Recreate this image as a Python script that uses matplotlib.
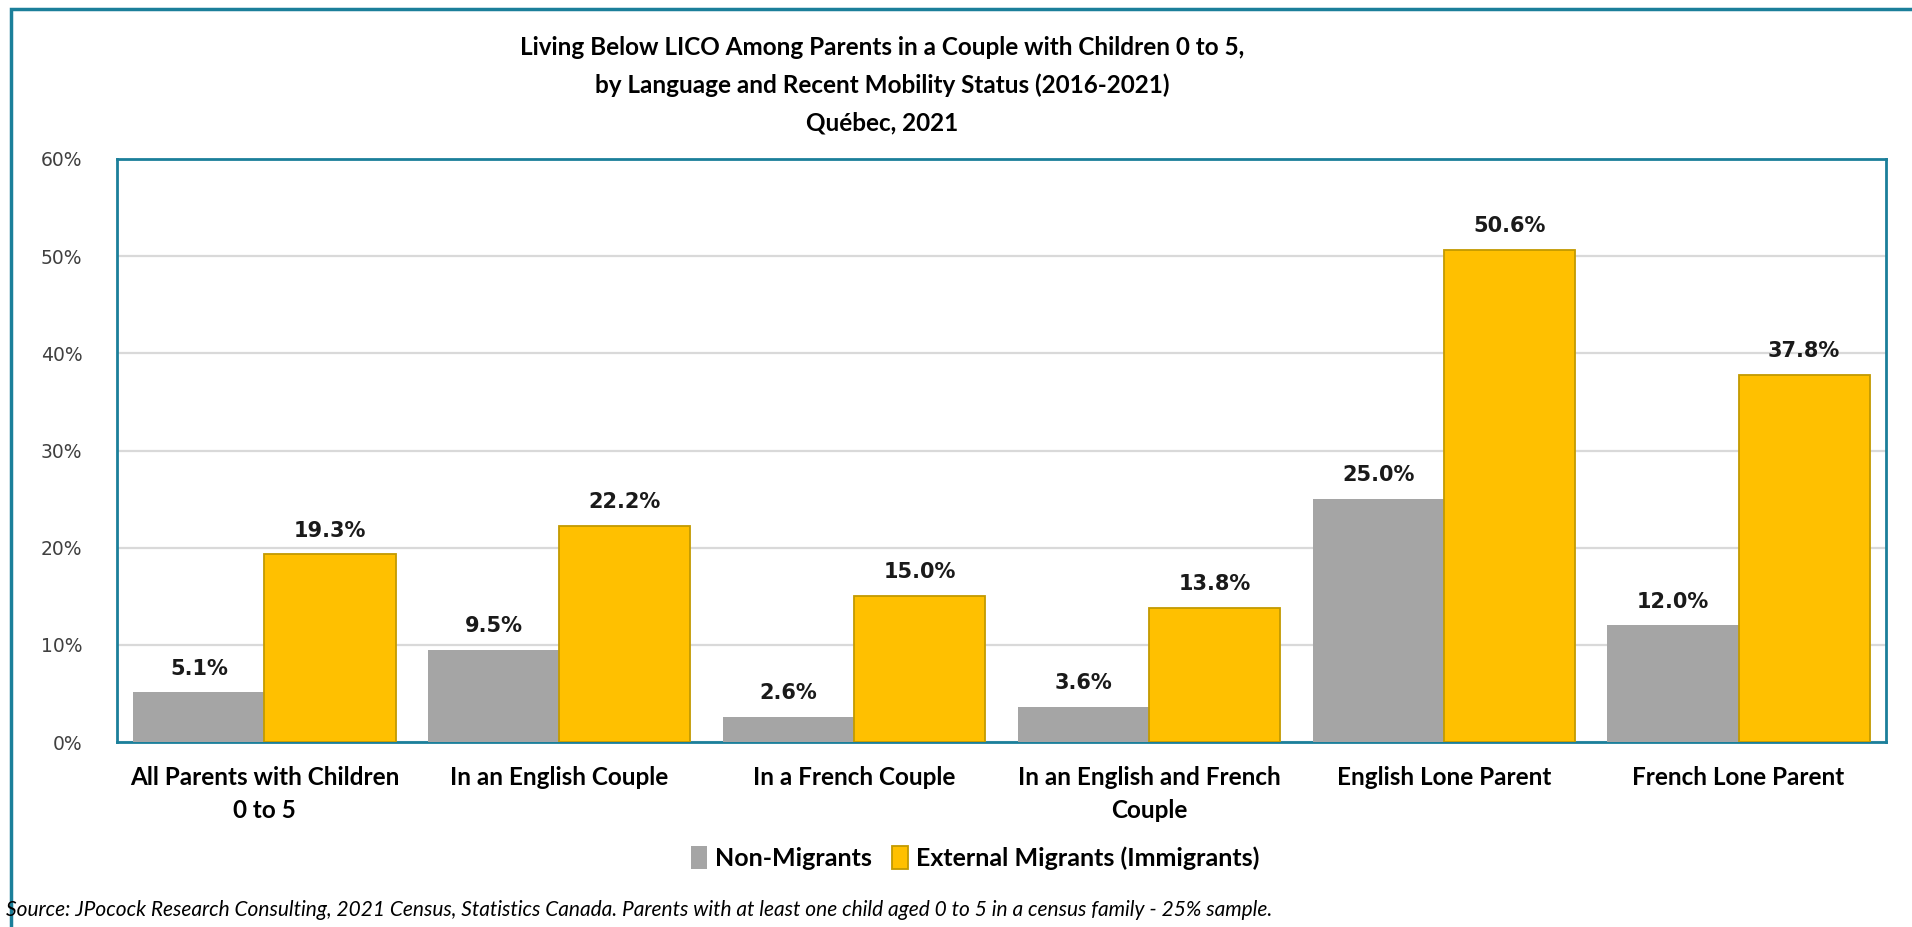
import matplotlib
matplotlib.use("Agg")
import matplotlib.pyplot as plt
from matplotlib.patches import Rectangle, Patch
import numpy as np

# data
categories = ["All Parents with Children\n0 to 5", "In an English Couple", "In a French Couple",
              "In an English and French\nCouple", "English Lone Parent", "French Lone Parent"]
non_migrants = [5.1, 9.5, 2.6, 3.6, 25.0, 12.0]
immigrants = [19.3, 22.2, 15.0, 13.8, 50.6, 37.8]
series_names = ["Non-Migrants", "External Migrants (Immigrants)"]
y_ticks = [0, 10, 20, 30, 40, 50, 60]

title = ("Living Below LICO Among Parents in a Couple with Children 0 to 5,\n"
         "by Language and Recent Mobility Status (2016-2021)\n"
         "Québec, 2021")
source = ("Source: JPocock Research Consulting, 2021 Census, Statistics Canada. "
          "Parents with at least one child aged 0 to 5 in a census family - 25% sample.")

TEAL = "#1b7f9a"
GRAY = "#a5a5a5"
GOLD = "#ffc000"
GOLD_EDGE = "#c39a00"
LABEL_FONT = "Lato"
W, H = 1912, 927

fig = plt.figure(figsize=(W / 100, H / 100), dpi=100)
fig.patch.set_facecolor("white")

# outer chart frame (runs off the right and bottom edge)
fig.patches.append(Rectangle((11 / W, -0.05), 1.2, 1 - 9 / H + 0.05, transform=fig.transFigure,
                             fill=False, edgecolor=TEAL, linewidth=2.5))

ax = fig.add_axes([117 / W, 1 - 742 / H, (1886 - 117) / W, (742 - 159) / H])

x = np.arange(len(categories))
w = 0.445
b1 = ax.bar(x - w / 2, non_migrants, w, color=GRAY, edgecolor="none", zorder=3)
b2 = ax.bar(x + w / 2, immigrants, w, color=GOLD, edgecolor=GOLD_EDGE, linewidth=1.3, zorder=3)

for bars, vals in ((b1, non_migrants), (b2, immigrants)):
    for rect, v in zip(bars, vals):
        ax.annotate(f"{v:.1f}%", (rect.get_x() + rect.get_width() / 2, v),
                    xytext=(0, 10), textcoords="offset points", ha="center", va="bottom",
                    fontsize=15, fontweight="bold", family="DejaVu Sans", color="#1a1a1a")

ax.set_xlim(-0.5, len(categories) - 0.5)
ax.set_ylim(0, 60)
ax.set_yticks(y_ticks)
ax.set_yticklabels([f"{t}%" for t in y_ticks], fontsize=13.5, family="DejaVu Sans", color="#404040")
ax.tick_params(axis="y", length=0, pad=25)
ax.set_xticks(x)
ax.set_xticklabels(categories, fontsize=17.5, fontweight="bold", family=LABEL_FONT,
                   color="black", linespacing=1.55)
ax.tick_params(axis="x", length=0, pad=17)
ax.yaxis.grid(True, color="#d9d9d9", linewidth=1.6, zorder=0)
ax.set_axisbelow(True)
for s in ax.spines.values():
    s.set_color(TEAL)
    s.set_linewidth(2)

fig.text(882 / W, 1 - 85 / H, title, ha="center", va="center", fontsize=17.5,
         fontweight="bold", family=LABEL_FONT, color="black", linespacing=1.75)

handles = [Patch(facecolor=GRAY, edgecolor="none"),
           Patch(facecolor=GOLD, edgecolor=GOLD_EDGE, linewidth=1.3)]
fig.legend(handles, series_names, loc="center", bbox_to_anchor=(975 / W, 1 - 858 / H),
           ncol=2, frameon=False, handlelength=0.65, handleheight=1.0, handletextpad=0.3,
           columnspacing=0.8, prop={"family": LABEL_FONT, "weight": "bold", "size": 18})

fig.text(6 / W, 1 - 910 / H, source, ha="left", va="center", fontsize=15,
         style="italic", family=LABEL_FONT, color="black")

fig.savefig("out.png", dpi=100, facecolor="white")
